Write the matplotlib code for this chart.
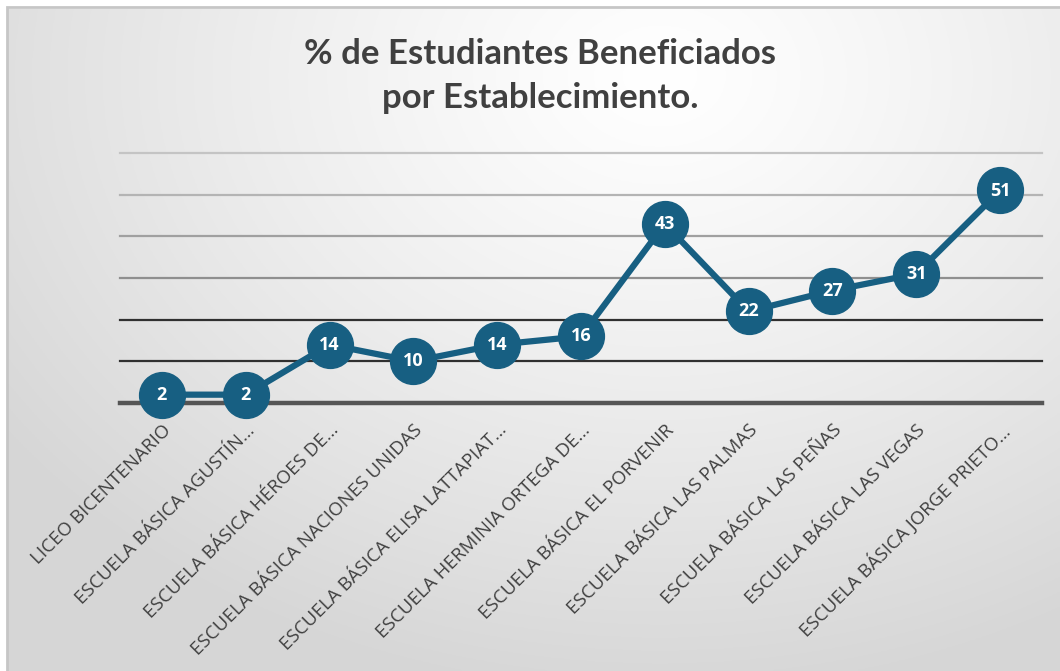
import matplotlib.pyplot as plt
import numpy as np
from matplotlib.patches import Rectangle

establecimientos = [
    "LICEO BICENTENARIO",
    "ESCUELA BÁSICA AGUSTÍN…",
    "ESCUELA BÁSICA HÉROES DE…",
    "ESCUELA BÁSICA NACIONES UNIDAS",
    "ESCUELA BÁSICA ELISA LATTAPIAT…",
    "ESCUELA HERMINIA ORTEGA DE…",
    "ESCUELA BÁSICA EL PORVENIR",
    "ESCUELA BÁSICA LAS PALMAS",
    "ESCUELA BÁSICA LAS PEÑAS",
    "ESCUELA BÁSICA LAS VEGAS",
    "ESCUELA BÁSICA JORGE PRIETO…",
]
porcentajes = [2, 2, 14, 10, 14, 16, 43, 22, 27, 31, 51]
titulo = "% de Estudiantes Beneficiados\npor Establecimiento."

W, H = 1060, 671
fig = plt.figure(figsize=(W / 100, H / 100), dpi=100)
fig.patch.set_facecolor("white")

# gradient background inside the frame
bg = fig.add_axes([8 / W, 0, 1 - 8 / W, 1 - 9 / H], zorder=-2)
yy, xx = np.mgrid[0:1:300j, 0:1:400j]
d = np.sqrt(((xx - 0.62) * 1.1) ** 2 + ((yy - 0.1) * 0.9) ** 2)
g = 1.0 - 0.16 * np.clip(d / 0.85, 0, 1) ** 1.2
bg.imshow(np.dstack([g, g, g]), aspect="auto", extent=[0, 1, 1, 0])
bg.axis("off")
fig.add_artist(Rectangle((7 / W, -0.01), 1.0, 1 - 7 / H + 0.01, transform=fig.transFigure,
                         fill=False, edgecolor="#c6c6c6", linewidth=2))

ax = fig.add_axes([120 / W, 1 - 403 / H, (1042 - 120) / W, (403 - 153) / H])
ax.patch.set_alpha(0)
x = np.arange(len(porcentajes))
ax.set_xlim(-0.5, len(porcentajes) - 0.5)
ax.set_ylim(0, 60)

grid_colors = {10: "#303030", 20: "#303030", 30: "#8f8f8f", 40: "#a0a0a0", 50: "#b4b4b4", 60: "#c4c4c4"}
for v, c in grid_colors.items():
    ax.axhline(v, color=c, linewidth=1.6, zorder=1, clip_on=False)
ax.axhline(0, color="#555555", linewidth=3.2, zorder=1, clip_on=False)

ax.plot(x, porcentajes, color="#175f82", linewidth=4.5, marker="o", markersize=33,
        zorder=3, clip_on=False)
for xi, v in zip(x, porcentajes):
    ax.text(xi, v, str(v), color="white", fontsize=13, fontweight="bold", family="Open Sans",
            ha="center", va="center", zorder=4)

for s in ax.spines.values():
    s.set_visible(False)
ax.set_yticks([])
ax.set_xticks(x)
ax.set_xticklabels(establecimientos, rotation=45, ha="right", va="top", rotation_mode="anchor",
                   fontsize=13.5, color="#404040", family="Open Sans")
ax.tick_params(axis="x", length=0, pad=13)

fig.text(540 / W, 1 - 76 / H, titulo, ha="center", va="center", fontsize=25, fontweight="bold",
         color="#404040", family="Lato", linespacing=1.45)

fig.savefig("out.png", dpi=100)
